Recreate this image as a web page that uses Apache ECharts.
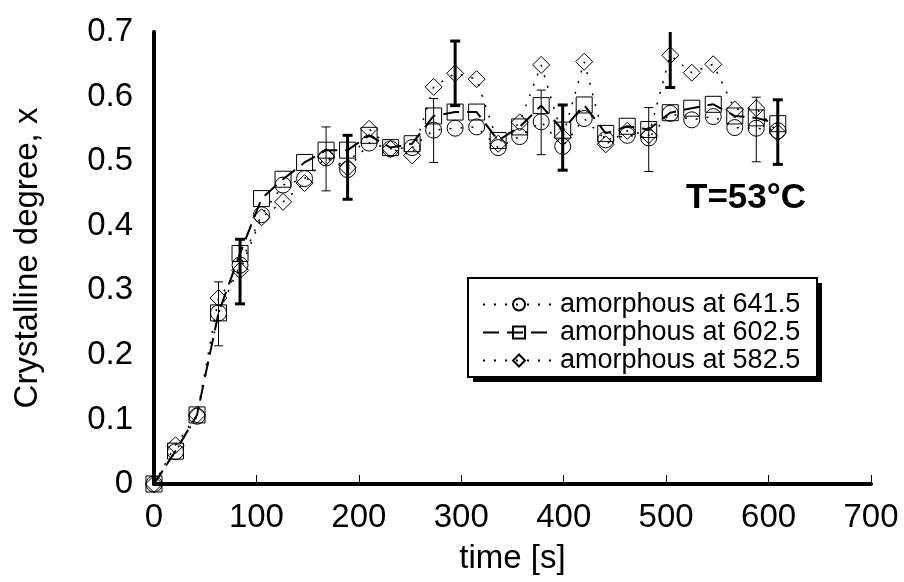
<!DOCTYPE html>
<html>
<head>
<meta charset="utf-8">
<script src="https://cdn.jsdelivr.net/npm/echarts@6/dist/echarts.min.js"></script>
<style>
  html, body { margin: 0; padding: 0; background: #fff; }
  #chart { width: 904px; height: 582px; }
</style>
</head>
<body>
<div id="chart"></div>
<script>
// ---- data ----
var times = [0,21,42,63,84,105,126,147,168,189,210,231,252,273,294,315,336,357,378,399,420,441,462,483,504,525,546,567,588,609];
var seriesNames = ['amorphous at 641.5', 'amorphous at 602.5', 'amorphous at 582.5'];
var circleVals = [0,0.050,0.105,0.265,0.339,0.417,0.463,0.473,0.505,0.487,0.528,0.519,0.521,0.548,0.551,0.553,0.521,0.538,0.561,0.523,0.566,0.533,0.540,0.536,0.574,0.564,0.569,0.552,0.551,0.547];
var squareVals = [0,0.051,0.107,0.265,0.357,0.442,0.472,0.498,0.517,0.517,0.540,0.521,0.527,0.570,0.576,0.576,0.532,0.553,0.586,0.548,0.587,0.543,0.554,0.549,0.575,0.582,0.588,0.570,0.567,0.558];
var diamondVals = [0,0.060,0.107,0.288,0.331,0.413,0.437,0.466,0.507,0.490,0.550,0.519,0.509,0.615,0.636,0.627,0.527,0.560,0.649,0.537,0.654,0.526,0.547,0.540,0.664,0.637,0.650,0.580,0.582,0.544];
// error bars: time, low, high
var circleErrT    = [63, 168, 273, 378, 483, 588];
var circleErrLow  = [0.214, 0.454, 0.498, 0.510, 0.484, 0.499];
var circleErrHigh = [0.313, 0.553, 0.597, 0.610, 0.583, 0.599];
var diamondErrT    = [84, 189, 294, 399, 504, 609];
var diamondErrLow  = [0.279, 0.441, 0.586, 0.486, 0.614, 0.495];
var diamondErrHigh = [0.379, 0.540, 0.686, 0.587, 0.714, 0.595];
var xTicks = [0,100,200,300,400,500,600,700];
var yTicks = [0,0.1,0.2,0.3,0.4,0.5,0.6,0.7];
var annotation = 'T=53°C';

var FONT = '"Liberation Sans", Arial, Helvetica, sans-serif';

function pairs(vals) { return times.map(function (t, i) { return [t, vals[i]]; }); }
function errData(ts, lo, hi) { return ts.map(function (t, i) { return [t, lo[i], hi[i]]; }); }

function errRender(lw, capHalf) {
  return function (params, api) {
    var p1 = api.coord([api.value(0), api.value(1)]);
    var p2 = api.coord([api.value(0), api.value(2)]);
    var st = { stroke: '#000', lineWidth: lw };
    return {
      type: 'group',
      children: [
        { type: 'line', shape: { x1: p1[0], y1: p1[1], x2: p2[0], y2: p2[1] }, style: st },
        { type: 'line', shape: { x1: p1[0] - capHalf, y1: p1[1], x2: p1[0] + capHalf, y2: p1[1] }, style: st },
        { type: 'line', shape: { x1: p2[0] - capHalf, y1: p2[1], x2: p2[0] + capHalf, y2: p2[1] }, style: st }
      ]
    };
  };
}

var markerStyle = { color: 'rgba(255,255,255,0)', borderColor: '#000', borderWidth: 1 };

var chart = echarts.init(document.getElementById('chart'), null, { renderer: 'canvas' });
chart.setOption({
  animation: false,
  backgroundColor: '#fff',
  textStyle: { fontFamily: FONT, color: '#000' },
  grid: { left: 154, right: 33, top: 32, bottom: 98, containLabel: false },
  xAxis: {
    type: 'value', min: 0, max: 700, interval: 100,
    name: 'time [s]', nameLocation: 'middle', nameGap: 58,
    nameTextStyle: { fontSize: 33, fontFamily: FONT, color: '#000' },
    axisLine: { show: true, lineStyle: { color: '#000', width: 4 } },
    axisTick: { show: true, inside: true, length: 9, lineStyle: { color: '#000', width: 1 } },
    axisLabel: { fontSize: 33, fontFamily: FONT, color: '#000', margin: 17,
      formatter: function (v) { return xTicks.indexOf(v) >= 0 ? String(v) : ''; } },
    splitLine: { show: false }
  },
  yAxis: {
    type: 'value', min: 0, max: 0.7, interval: 0.1,
    name: 'Crystalline degree, x', nameLocation: 'middle', nameGap: 110,
    nameTextStyle: { fontSize: 33, fontFamily: FONT, color: '#000' },
    axisLine: { show: true, lineStyle: { color: '#000', width: 4 } },
    axisTick: { show: false },
    axisLabel: { fontSize: 33, fontFamily: FONT, color: '#000', margin: 21,
      formatter: function (v) {
        var r = Math.round(v * 10) / 10;
        for (var k = 0; k < yTicks.length; k++) { if (Math.abs(yTicks[k] - r) < 1e-9) return r === 0 ? '0' : r.toFixed(1); }
        return '';
      } },
    splitLine: { show: false }
  },
  legend: {
    orient: 'vertical', left: 468, top: 278, z: 10,
    padding: [13, 14, 6, 14], itemGap: 1, itemWidth: 72, itemHeight: 15,
    textStyle: { fontSize: 27, fontFamily: FONT, color: '#000', lineHeight: 27 },
    data: seriesNames
  },
  graphic: [
    { type: 'rect', z: 5, shape: { x: 473, y: 283, width: 349, height: 99 },
      style: { fill: '#000' } },
    { type: 'rect', z: 6, shape: { x: 468, y: 278, width: 349, height: 99 },
      style: { fill: '#fff', stroke: '#000', lineWidth: 2 } },
    { type: 'text', z: 6, left: 686, top: 181,
      style: { text: annotation, font: 'bold 35px ' + FONT, fill: '#000' } }
  ],
  series: [
    {
      name: seriesNames[0], type: 'line', data: pairs(circleVals),
      symbol: 'circle', symbolSize: 16, itemStyle: markerStyle,
      lineStyle: { color: '#000', width: 1.5, type: [2, 9] }, z: 3
    },
    {
      name: seriesNames[1], type: 'line', data: pairs(squareVals),
      symbol: 'rect', symbolSize: 16, itemStyle: markerStyle,
      lineStyle: { color: '#000', width: 2, type: [16, 8] }, z: 3
    },
    {
      name: seriesNames[2], type: 'line', data: pairs(diamondVals),
      symbol: 'diamond', symbolSize: 17, itemStyle: markerStyle,
      lineStyle: { color: '#000', width: 1.5, type: [2, 9] }, z: 3
    },
    {
      name: 'err641', type: 'custom', clip: true, z: 4,
      renderItem: errRender(1, 4.5), data: errData(circleErrT, circleErrLow, circleErrHigh)
    },
    {
      name: 'err582', type: 'custom', clip: true, z: 4,
      renderItem: errRender(3, 5), data: errData(diamondErrT, diamondErrLow, diamondErrHigh)
    }
  ]
});
</script>
</body>
</html>
